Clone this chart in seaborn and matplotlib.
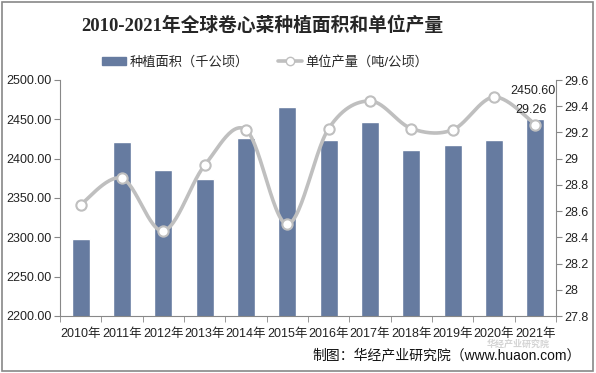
import numpy as np
import pandas as pd
import matplotlib
matplotlib.use('Agg')
import matplotlib.pyplot as plt
from matplotlib.patches import Rectangle
from matplotlib.lines import Line2D
import seaborn as sns

# data
years = ['2010年', '2011年', '2012年', '2013年', '2014年', '2015年',
         '2016年', '2017年', '2018年', '2019年', '2020年', '2021年']
area = [2298, 2421, 2386, 2374, 2426, 2466, 2424, 2446, 2411, 2418, 2424, 2450.60]
yield_t = [28.65, 28.85, 28.45, 28.95, 29.22, 28.50, 29.23, 29.44, 29.23, 29.22, 29.47, 29.26]

df = pd.DataFrame({'year': years, 'area': area, 'yield': yield_t})

sns.set_style('white')
plt.rcParams['font.family'] = ['Liberation Sans', 'Noto Sans CJK SC', 'DejaVu Sans']

bar_color = '#667BA0'
line_color = '#BFBFBF'

fig = plt.figure(figsize=(5.96, 3.73), dpi=100)
ax = fig.add_axes([60/596, 1-316/373, 496/596, 236/373])

sns.barplot(data=df, x='year', y='area', color=bar_color, width=0.44,
            saturation=1, ax=ax)
ax.set_ylim(2200, 2500)
ax.set_yticks(np.arange(2200, 2501, 50))
ax.set_yticklabels([f'{v:.2f}' for v in np.arange(2200, 2501, 50)])
ax.set_xlim(-0.5, len(years) - 0.5)
ax.set_xlabel('')
ax.set_ylabel('')

# smoothed line through the points (like excel's smoothed line)
ax2 = ax.twinx()
xs = np.arange(len(years), dtype=float)
ys = np.array(yield_t)
px = np.concatenate([[xs[0]], xs, [xs[-1]]])
py = np.concatenate([[ys[0]], ys, [ys[-1]]])
cx, cy = [], []
for i in range(1, len(px) - 2):
    p0, p1, p2, p3 = [np.array([px[j], py[j]]) for j in (i-1, i, i+1, i+2)]
    b1 = p1 + (p2 - p0) / 6
    b2 = p2 - (p3 - p1) / 6
    t = np.linspace(0, 1, 30)[:, None]
    seg = (1-t)**3*p1 + 3*(1-t)**2*t*b1 + 3*(1-t)*t**2*b2 + t**3*p2
    cx.extend(seg[:, 0]); cy.extend(seg[:, 1])
ax2.plot(cx, cy, color=line_color, lw=2.6, zorder=3)
sns.scatterplot(x=xs, y=ys, ax=ax2, s=55, color='white', edgecolor=line_color,
                linewidth=1.5, zorder=4)
ax2.set_ylim(27.8, 29.6)
ax2.set_yticks(np.arange(27.8, 29.61, 0.2))
ax2.set_yticklabels([f'{v:g}' for v in np.round(np.arange(27.8, 29.61, 0.2), 1)])
ax2.set_xlim(-0.5, len(years) - 0.5)

for a in (ax, ax2):
    for s in a.spines.values():
        s.set_visible(False)
    a.tick_params(labelsize=9, colors='#222222', length=4, width=0.8, color='#888888')
ax.spines['left'].set_visible(True)
ax.spines['bottom'].set_visible(True)
ax2.spines['right'].set_visible(True)
for s in (ax.spines['left'], ax.spines['bottom'], ax2.spines['right']):
    s.set_color('#888888')
    s.set_linewidth(0.8)
ax.tick_params(axis='y', left=True, pad=2)
ax2.tick_params(axis='y', right=True, pad=2)
ax.set_xticks(np.arange(len(years)))
ax.set_xticklabels(years)
ax.set_xticks(np.arange(-0.5, len(years)), minor=True)
ax.tick_params(axis='x', which='major', bottom=False, pad=5)
ax.tick_params(axis='x', which='minor', bottom=True, length=4, color='#888888')

# data labels for the last year
ax.annotate(f'{area[-1]:.2f}', (11, area[-1]), xytext=(-2, 16), textcoords='offset points',
            ha='center', va='bottom', fontsize=9, color='#222222')
ax2.annotate(f'{yield_t[-1]:.2f}', (11, yield_t[-1]), xytext=(-3, 6), textcoords='offset points',
             ha='center', va='bottom', fontsize=9, color='#222222')

fig.text(0.44, 0.93, '2010-2021年全球卷心菜种植面积和单位产量', ha='center', va='center',
         fontsize=13.5, fontweight='bold', family=['Liberation Serif', 'Noto Sans CJK SC'])

handles = [Rectangle((0, 0), 1, 1, color=bar_color),
           Line2D([], [], color=line_color, lw=2.6, marker='o', markersize=6,
                  markerfacecolor='white', markeredgecolor=line_color)]
fig.legend(handles, ['种植面积（千公顷）', '单位产量（吨/公顷）'], loc='center',
           bbox_to_anchor=(0.445, 0.833), ncol=2, frameon=False, fontsize=9.5,
           handlelength=1.8, handleheight=0.6, columnspacing=2.2, handletextpad=0.3)

# faint watermark
fig.text(0.87, 0.076, '华经产业研究院', ha='center', va='center', fontsize=6.5,
         color='#D4D4D4', fontweight='bold')

fig.text(0.975, 0.046, '制图：华经产业研究院（www.huaon.com）', ha='right', va='center',
         fontsize=10, color='#111111')

fig.add_artist(Rectangle((0.003, 0.005), 0.992, 0.99, transform=fig.transFigure,
                         fill=False, edgecolor='#888888', lw=1.2))

fig.savefig('out.png', dpi=100)
